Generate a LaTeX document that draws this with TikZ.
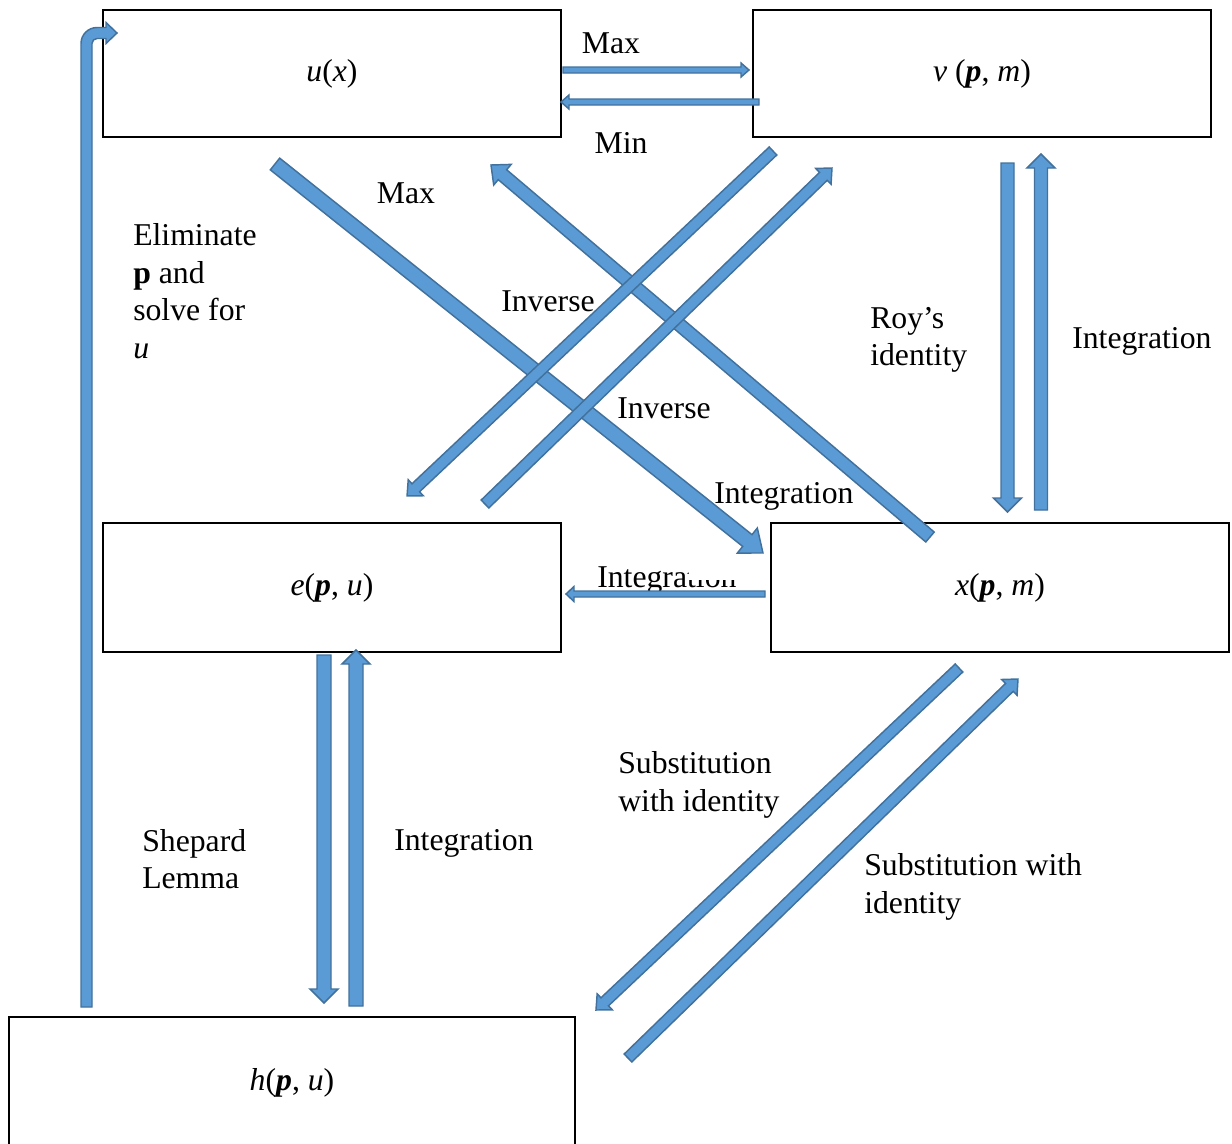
\documentclass[tikz,border=0pt]{standalone}
\usepackage{fontspec}
\setmainfont{Liberation Serif}
\definecolor{afill}{HTML}{5B9BD5}
\definecolor{aline}{HTML}{41719C}
\tikzset{
  box/.style={draw=black, line width=1.3pt, rectangle, inner sep=0pt, font=\fontsize{23.8}{27.8}\selectfont},
  lbl/.style={inner sep=0pt, font=\fontsize{23.8}{28.2}\selectfont},
  barrow/.style={fill=afill, draw=aline, line width=1.1pt, line join=miter},
}
% block arrow: #1 tail coordinate, #2 tip coordinate, #3 shaft half-width, #4 head half-width, #5 head length (px)
\newcommand{\blockarrow}[5]{%
  \pgfpointdiff{\pgfpointanchor{#1}{center}}{\pgfpointanchor{#2}{center}}%
  \pgfgetlastxy{\bdx}{\bdy}%
  \pgfmathsetmacro{\bang}{atan2(\bdy,\bdx)}%
  \pgfmathsetmacro{\blen}{100*veclen(\bdx/100,\bdy/100)}%
  \pgfmathsetmacro{\bsw}{0.75*#3}%
  \pgfmathsetmacro{\bhw}{0.75*#4}%
  \pgfmathsetmacro{\bhb}{\blen-0.75*#5}%
  \draw[barrow, shift={(#1)}, rotate=\bang, x=1pt, y=1pt]
    (0,-\bsw) -- (\bhb,-\bsw) -- (\bhb,-\bhw) -- (\blen,0) -- (\bhb,\bhw) -- (\bhb,\bsw) -- (0,\bsw) -- cycle;%
}
\begin{document}
\begin{tikzpicture}[x=0.75pt, y=-0.75pt]
\useasboundingbox (0,0) rectangle (1232,1143);
% boxes
\node[box, minimum width=343.5pt, minimum height=95.25pt] (u) at (332,73.5) {\textit{u}(\textit{x})};
\node[box, minimum width=343.5pt, minimum height=95.25pt] (v) at (982,73.5) {\textit{v} (\textbf{\textit{p}}, \textit{m})};
\node[box, minimum width=343.5pt, minimum height=96.75pt] (e) at (332,587.5) {\textit{e}(\textbf{\textit{p}}, \textit{u})};
\node[box, minimum width=343.5pt, minimum height=96.75pt] (x) at (1000,587.5) {\textit{x}(\textbf{\textit{p}}, \textit{m})};
\node[box, minimum width=424.5pt, minimum height=98.25pt] (h) at (292,1082.5) {\textit{h}(\textbf{\textit{p}}, \textit{u})};
% labels
\node[lbl] (lmax) at (611,43) {Max};
\node[lbl] (lmin) at (621,143) {Min};
\node[lbl] (lmax2) at (406,193) {Max};
\node[lbl, anchor=west, align=left] (lelim) at (133,291) {Eliminate\\\textbf{p} and\\solve for\\\textit{u}};
\node[lbl] (linv1) at (548,301) {Inverse};
\node[lbl] (linv2) at (664,408) {Inverse};
\node[lbl, anchor=west, align=left] (lroy) at (870,340) {Roy’s\\identity};
\node[lbl, anchor=west] (lint1) at (1072,341) {Integration};
\node[lbl, anchor=west] (lint2) at (714,496) {Integration};
\node[lbl, anchor=west] (lint3) at (597,580) {Integration};
\fill[white] (689,560) rectangle (745,580);
\node[lbl, anchor=west, align=left] (lsub1) at (618,785) {Substitution\\with identity};
\node[lbl, anchor=west, align=left] (lsub2) at (864,887) {Substitution with\\identity};
\node[lbl, anchor=west, align=left] (lshep) at (142,859) {Shepard\\Lemma};
\node[lbl, anchor=west] (lint4) at (394,843) {Integration};
% arrow end points
\coordinate (a1s) at (563,70);   \coordinate (a1e) at (749,70);
\coordinate (a2s) at (759,102);  \coordinate (a2e) at (561,102);
\coordinate (a7s) at (765,594);  \coordinate (a7e) at (566,594);
\coordinate (a3s) at (275,164);  \coordinate (a3e) at (763,553);
\coordinate (a4s) at (930,537);  \coordinate (a4e) at (491,165);
\coordinate (a5s) at (773,151);  \coordinate (a5e) at (407,496);
\coordinate (a6s) at (485,504);  \coordinate (a6e) at (832,168);
\coordinate (a8s) at (1007.5,163); \coordinate (a8e) at (1007.5,512);
\coordinate (a9s) at (1041,510); \coordinate (a9e) at (1041,154);
\coordinate (a10s) at (324,655); \coordinate (a10e) at (324,1003);
\coordinate (a11s) at (356,1006); \coordinate (a11e) at (356,650);
\coordinate (a12s) at (959,668); \coordinate (a12e) at (596,1010);
\coordinate (a13s) at (628,1058); \coordinate (a13e) at (1018,679);
% arrows
\blockarrow{a1s}{a1e}{3}{7}{8}
\blockarrow{a2s}{a2e}{3}{7}{8}
\blockarrow{a7s}{a7e}{3}{7.5}{8}
\blockarrow{a3s}{a3e}{7.5}{16}{20}
\blockarrow{a4s}{a4e}{6.5}{13.5}{15}
\blockarrow{a5s}{a5e}{5.5}{11}{12}
\blockarrow{a6s}{a6e}{5.5}{11}{12}
\blockarrow{a8s}{a8e}{6.5}{14}{14}
\blockarrow{a9s}{a9e}{6.5}{14}{14}
\blockarrow{a10s}{a10e}{7}{14}{14}
\blockarrow{a11s}{a11e}{7}{14}{14}
\blockarrow{a12s}{a12e}{5.5}{11}{12}
\blockarrow{a13s}{a13e}{5.5}{11}{12}
% bent arrow from h up to u
\draw[barrow] (81,1007) [rounded corners=12pt] -- (81,27.5) [sharp corners] -- (106,27.5) -- (106,22.5) -- (117,33) -- (106,43.5) -- (106,38.5) [rounded corners=3.75pt] -- (92,38.5) [sharp corners] -- (92,1007) -- cycle;
\end{tikzpicture}
\end{document}
